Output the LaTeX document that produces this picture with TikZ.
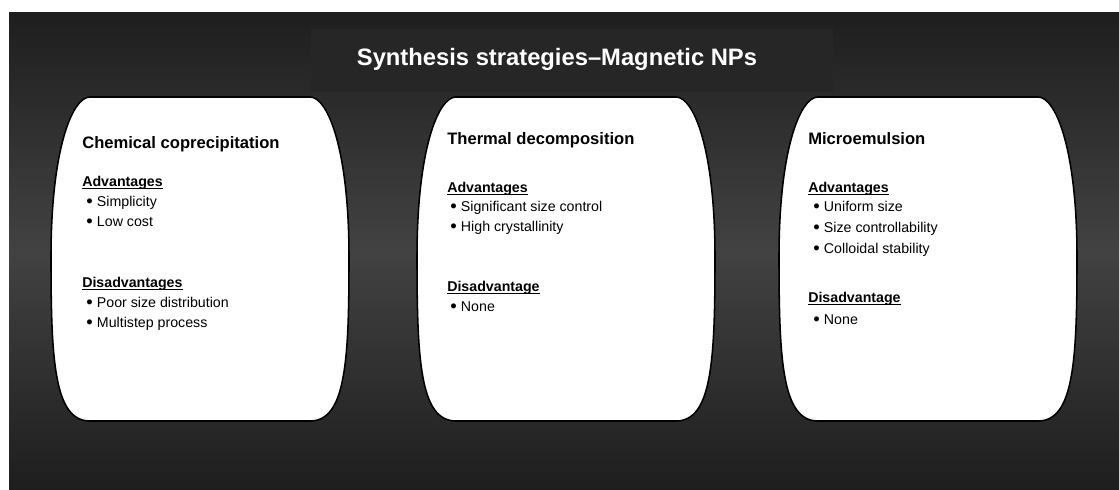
\documentclass[tikz,border=0pt]{standalone}
\usepackage{fontspec}
\setmainfont{Liberation Sans}
\usepackage{xcolor}
\usepackage{tikz}

\definecolor{bgdark}{HTML}{1E1E1E}
\definecolor{bgmid}{HTML}{424242}
\definecolor{titlebg}{HTML}{262626}

\newcommand{\puce}{\raisebox{-0.2ex}{\scalebox{1.3}{\textbullet}}\hspace{3pt}}
\newcommand{\souligne}[1]{\underline{\smash{#1}}}

\begin{document}
\begin{tikzpicture}[x=0.025cm,y=-0.025cm,
        barrel/.style={fill=white,draw=black,line width=1.1pt},
        method/.style={anchor=base west,inner sep=0pt,font=\fontsize{11.8}{14}\selectfont\bfseries},
        heading/.style={anchor=base west,inner sep=0pt,font=\fontsize{10.1}{12}\selectfont\bfseries},
        entry/.style={anchor=base west,inner sep=0pt,font=\fontsize{10.1}{12}\selectfont}]
            \useasboundingbox (0,0) rectangle (1119,489);
            \shade[top color=bgdark,bottom color=bgdark,middle color=bgmid] (9,12) rectangle (1119,489);
            \fill[titlebg] (311,29) rectangle (833,92);
            \node[anchor=base,text=white,font=\fontsize{16.9}{20}\selectfont\bfseries] (title) at (557,65.5) {Synthesis strategies–Magnetic NPs};
            % les trois tonneaux
            \draw[barrel,shift={(200,0)}] (-110,97) -- (110,97) .. controls (128,97) and (149,150) .. (149,257) .. controls (149,360) and (146,421) .. (110,421) -- (-110,421) .. controls (-146,421) and (-149,360) .. (-149,257) .. controls (-149,150) and (-128,97) .. (-110,97) -- cycle;
            \draw[barrel,shift={(566,0)}] (-110,97) -- (110,97) .. controls (128,97) and (149,150) .. (149,257) .. controls (149,360) and (146,421) .. (110,421) -- (-110,421) .. controls (-146,421) and (-149,360) .. (-149,257) .. controls (-149,150) and (-128,97) .. (-110,97) -- cycle;
            \draw[barrel,shift={(928,0)}] (-110,97) -- (110,97) .. controls (128,97) and (149,150) .. (149,257) .. controls (149,360) and (146,421) .. (110,421) -- (-110,421) .. controls (-146,421) and (-149,360) .. (-149,257) .. controls (-149,150) and (-128,97) .. (-110,97) -- cycle;
            % coprecipitation
            \node[method] (copr) at (82,148) {Chemical coprecipitation};
            \node[heading] (coprA) at (82,186) {\souligne{Advantages}};
            \node[entry] (coprA1) at (86,206) {\puce Simplicity};
            \node[entry] (coprA2) at (86,226) {\puce Low cost};
            \node[heading] (coprD) at (82,287) {\souligne{Disadvantages}};
            \node[entry] (coprD1) at (86,307) {\puce Poor size distribution};
            \node[entry] (coprD2) at (86,327) {\puce Multistep process};
            % thermal decomposition
            \node[method] (therm) at (447,144) {Thermal decomposition};
            \node[heading] (thermA) at (447,192) {\souligne{Advantages}};
            \node[entry] (thermA1) at (450,211) {\puce Significant size control};
            \node[entry] (thermA2) at (450,231) {\puce High crystallinity};
            \node[heading] (thermD) at (447,291) {\souligne{Disadvantage}};
            \node[entry] (thermD1) at (450,311) {\puce None};
            % microemulsion
            \node[method] (micro) at (808,144) {Microemulsion};
            \node[heading] (microA) at (808,192) {\souligne{Advantages}};
            \node[entry] (microA1) at (813,211) {\puce Uniform size};
            \node[entry] (microA2) at (813,232) {\puce Size controllability};
            \node[entry] (microA3) at (813,253) {\puce Colloidal stability};
            \node[heading] (microD) at (808,302) {\souligne{Disadvantage}};
            \node[entry] (microD1) at (813,324) {\puce None};
        \end{tikzpicture}
\end{document}
